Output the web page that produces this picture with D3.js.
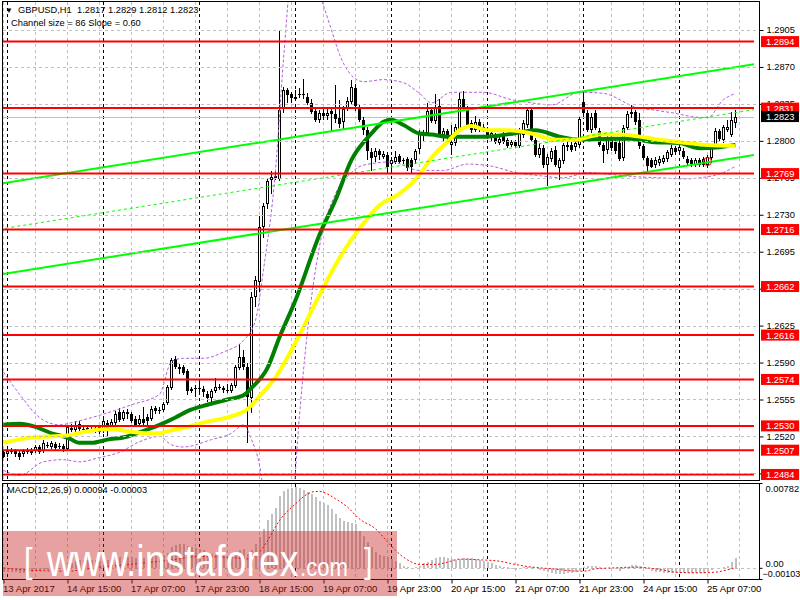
<!DOCTYPE html>
<html>
<head>
<meta charset="utf-8">
<script src="https://cdn.jsdelivr.net/npm/d3@7"></script>
<style>
  html, body { margin: 0; padding: 0; background: #fff; }
  svg { display: block; font-family: "Liberation Sans", Arial, sans-serif; }
</style>
</head>
<body>
<svg id="chart" width="800" height="600"></svg>
<script>
// H1 candles, [open, high, low, close], first bar 13 Apr 23:00
const candles = [
  [1.2505,1.2507,1.2500,1.2501],[1.2503,1.2508,1.2501,1.2506],[1.2505,1.2509,1.2503,1.2507],[1.2506,1.2508,1.2501,1.2503],
  [1.2504,1.2506,1.2498,1.2501],[1.2503,1.2508,1.2501,1.2506],[1.2505,1.2509,1.2503,1.2507],[1.2504,1.2509,1.2502,1.2506],
  [1.2506,1.2512,1.2504,1.2510],[1.2510,1.2512,1.2503,1.2505],[1.2506,1.2517,1.2504,1.2514],[1.2512,1.2515,1.2509,1.2511],
  [1.2510,1.2516,1.2508,1.2514],[1.2513,1.2515,1.2507,1.2509],[1.2510,1.2514,1.2508,1.2511],[1.2511,1.2513,1.2505,1.2508],
  [1.2508,1.2531,1.2506,1.2529],[1.2528,1.2532,1.2524,1.2526],[1.2526,1.2535,1.2524,1.2531],[1.2532,1.2535,1.2524,1.2527],
  [1.2527,1.2530,1.2524,1.2526],[1.2528,1.2531,1.2524,1.2526],[1.2526,1.2529,1.2524,1.2527],[1.2525,1.2530,1.2523,1.2528],
  [1.2529,1.2531,1.2522,1.2524],[1.2525,1.2537,1.2523,1.2535],[1.2533,1.2536,1.2520,1.2528],[1.2529,1.2537,1.2527,1.2534],
  [1.2533,1.2544,1.2531,1.2541],[1.2543,1.2547,1.2534,1.2536],[1.2537,1.2545,1.2535,1.2543],[1.2543,1.2546,1.2537,1.2541],
  [1.2541,1.2543,1.2533,1.2535],[1.2537,1.2539,1.2529,1.2531],[1.2532,1.2540,1.2530,1.2537],[1.2537,1.2548,1.2531,1.2533],
  [1.2538,1.2541,1.2529,1.2535],[1.2537,1.2549,1.2535,1.2546],[1.2547,1.2549,1.2541,1.2544],[1.2544,1.2548,1.2541,1.2545],
  [1.2545,1.2553,1.2543,1.2551],[1.2552,1.2569,1.2550,1.2567],[1.2566,1.2594,1.2564,1.2592],[1.2593,1.2596,1.2584,1.2586],
  [1.2586,1.2589,1.2579,1.2584],[1.2586,1.2588,1.2578,1.2580],[1.2582,1.2584,1.2559,1.2563],[1.2563,1.2567,1.2561,1.2565],
  [1.2565,1.2569,1.2557,1.2566],[1.2566,1.2574,1.2562,1.2565],[1.2565,1.2568,1.2557,1.2562],[1.2560,1.2563,1.2553,1.2556],
  [1.2556,1.2565,1.2553,1.2563],[1.2563,1.2575,1.2561,1.2567],[1.2567,1.2570,1.2564,1.2566],[1.2566,1.2568,1.2561,1.2564],
  [1.2564,1.2570,1.2561,1.2563],[1.2563,1.2571,1.2561,1.2569],[1.2568,1.2588,1.2566,1.2586],[1.2585,1.2608,1.2583,1.2595],
  [1.2595,1.2602,1.2583,1.2586],[1.2586,1.2590,1.2514,1.2557],[1.2556,1.2657,1.2542,1.2652],[1.2652,1.2672,1.2643,1.2668],
  [1.2666,1.2729,1.2657,1.2718],[1.2718,1.2741,1.2708,1.2738],[1.2740,1.2764,1.2735,1.2762],[1.2763,1.2771,1.2750,1.2766],
  [1.2765,1.2771,1.2763,1.2767],[1.2764,1.2905,1.2762,1.2829],[1.2830,1.2851,1.2826,1.2848],[1.2848,1.2850,1.2836,1.2843],
  [1.2844,1.2846,1.2836,1.2841],[1.2840,1.2848,1.2838,1.2842],[1.2843,1.2850,1.2841,1.2844],[1.2843,1.2859,1.2840,1.2844],
  [1.2842,1.2845,1.2834,1.2836],[1.2836,1.2840,1.2825,1.2827],[1.2828,1.2830,1.2818,1.2820],[1.2820,1.2829,1.2817,1.2826],
  [1.2826,1.2830,1.2820,1.2824],[1.2824,1.2832,1.2820,1.2826],[1.2828,1.2830,1.2808,1.2825],[1.2825,1.2853,1.2817,1.2821],
  [1.2822,1.2839,1.2812,1.2816],[1.2818,1.2833,1.2811,1.2830],[1.2831,1.2842,1.2828,1.2838],[1.2837,1.2858,1.2835,1.2851],
  [1.2850,1.2854,1.2828,1.2833],[1.2832,1.2834,1.2818,1.2820],[1.2820,1.2823,1.2806,1.2810],[1.2810,1.2813,1.2782,1.2790],
  [1.2789,1.2793,1.2771,1.2784],[1.2785,1.2793,1.2780,1.2790],[1.2790,1.2792,1.2782,1.2787],[1.2785,1.2790,1.2783,1.2788],
  [1.2787,1.2789,1.2770,1.2775],[1.2778,1.2785,1.2770,1.2782],[1.2780,1.2790,1.2778,1.2785],[1.2786,1.2788,1.2778,1.2780],
  [1.2782,1.2784,1.2778,1.2781],[1.2783,1.2785,1.2771,1.2774],[1.2782,1.2784,1.2770,1.2775],[1.2782,1.2792,1.2778,1.2790],
  [1.2792,1.2810,1.2788,1.2807],[1.2807,1.2810,1.2800,1.2806],[1.2807,1.2836,1.2805,1.2828],[1.2829,1.2832,1.2817,1.2819],
  [1.2819,1.2844,1.2816,1.2831],[1.2833,1.2840,1.2804,1.2806],[1.2806,1.2812,1.2800,1.2809],[1.2809,1.2811,1.2801,1.2803],
  [1.2796,1.2815,1.2787,1.2799],[1.2798,1.2816,1.2795,1.2813],[1.2811,1.2845,1.2808,1.2840],[1.2840,1.2847,1.2828,1.2830],
  [1.2830,1.2833,1.2812,1.2814],[1.2817,1.2820,1.2807,1.2810],[1.2810,1.2824,1.2808,1.2818],[1.2818,1.2821,1.2808,1.2810],
  [1.2813,1.2816,1.2808,1.2810],[1.2810,1.2813,1.2802,1.2804],[1.2803,1.2809,1.2800,1.2807],[1.2805,1.2807,1.2797,1.2799],
  [1.2798,1.2804,1.2796,1.2802],[1.2806,1.2809,1.2797,1.2799],[1.2801,1.2803,1.2793,1.2795],[1.2796,1.2801,1.2794,1.2799],
  [1.2799,1.2801,1.2793,1.2795],[1.2795,1.2812,1.2793,1.2810],[1.2806,1.2820,1.2803,1.2817],[1.2815,1.2831,1.2812,1.2829],
  [1.2829,1.2831,1.2799,1.2801],[1.2801,1.2803,1.2785,1.2787],[1.2787,1.2798,1.2784,1.2793],[1.2793,1.2796,1.2774,1.2777],
  [1.2777,1.2788,1.2757,1.2785],[1.2783,1.2793,1.2780,1.2790],[1.2791,1.2795,1.2775,1.2777],[1.2774,1.2784,1.2763,1.2782],
  [1.2781,1.2798,1.2778,1.2796],[1.2794,1.2799,1.2790,1.2796],[1.2796,1.2799,1.2789,1.2791],[1.2794,1.2800,1.2790,1.2798],
  [1.2796,1.2823,1.2793,1.2821],[1.2837,1.2847,1.2823,1.2826],[1.2826,1.2829,1.2808,1.2810],[1.2810,1.2826,1.2807,1.2823],
  [1.2826,1.2829,1.2810,1.2812],[1.2809,1.2812,1.2794,1.2796],[1.2796,1.2798,1.2779,1.2790],[1.2791,1.2806,1.2788,1.2804],
  [1.2804,1.2807,1.2790,1.2793],[1.2799,1.2802,1.2788,1.2790],[1.2798,1.2801,1.2781,1.2783],[1.2784,1.2815,1.2781,1.2812],
  [1.2812,1.2828,1.2810,1.2825],[1.2825,1.2834,1.2822,1.2827],[1.2827,1.2829,1.2815,1.2818],[1.2820,1.2826,1.2792,1.2795],
  [1.2795,1.2797,1.2782,1.2784],[1.2784,1.2786,1.2771,1.2776],[1.2782,1.2784,1.2774,1.2775],[1.2777,1.2785,1.2774,1.2782],
  [1.2779,1.2786,1.2776,1.2783],[1.2780,1.2787,1.2778,1.2784],[1.2783,1.2791,1.2780,1.2789],[1.2787,1.2796,1.2785,1.2793],
  [1.2793,1.2795,1.2787,1.2789],[1.2790,1.2797,1.2787,1.2794],[1.2790,1.2793,1.2783,1.2785],[1.2783,1.2786,1.2777,1.2779],
  [1.2782,1.2784,1.2775,1.2777],[1.2777,1.2784,1.2775,1.2782],[1.2782,1.2784,1.2775,1.2777],[1.2777,1.2785,1.2775,1.2783],
  [1.2777,1.2787,1.2774,1.2785],[1.2784,1.2796,1.2782,1.2794],[1.2796,1.2812,1.2794,1.2809],[1.2809,1.2811,1.2799,1.2802],
  [1.2801,1.2815,1.2798,1.2813],[1.2810,1.2820,1.2808,1.2813],[1.2806,1.2827,1.2804,1.2820],[1.2817,1.2829,1.2812,1.2823]
];

// moving averages, [bar index, price]
const greenMA = [
  [0,1.2531],[4,1.2532],[8,1.2529],[12,1.2523],[16,1.2519],[19,1.2514],[22,1.2514],[26,1.2517],[31,1.2520],
  [34,1.2524],[39,1.2531],[43,1.2538],[46,1.2544],[51,1.2550],[56,1.2555],[60,1.2559],[62,1.2566],[66,1.2585],
  [69,1.2614],[73,1.2649],[79,1.2711],[83,1.2744],[87,1.2782],[92,1.2807],[95,1.2818],[97,1.2820],[100,1.2815],
  [104,1.2807],[107,1.2806],[111,1.2804],[121,1.2804],[129,1.2808],[133,1.2810],[139,1.2804],[144,1.2801],
  [152,1.2802],[157,1.2802],[162,1.2799],[169,1.2798],[174,1.2793],[179,1.2794],[183,1.2796]
];
const yellowMA = [
  [0,1.2514],[7,1.2519],[16,1.2521],[21,1.2525],[27,1.2527],[31,1.2525],[36,1.2523],[39,1.2523],[41,1.2525],
  [46,1.2529],[51,1.2534],[56,1.2538],[61,1.2546],[64,1.2558],[68,1.2576],[73,1.2609],[79,1.2654],[84,1.2689],
  [89,1.2717],[94,1.2739],[99,1.2750],[104,1.2768],[107,1.2784],[111,1.2799],[114,1.2810],[117,1.2814],
  [121,1.2810],[126,1.2810],[132,1.2807],[138,1.2801],[143,1.2801],[149,1.2806],[154,1.2806],[159,1.2804],
  [164,1.2801],[171,1.2798],[176,1.2796],[183,1.2795]
];

// envelope bands (dotted violet)
const bandUpper = [
  [0,1.2581],[4,1.2560],[9,1.2538],[14,1.2531],[18,1.2534],[24,1.2540],[32,1.2550],[39,1.2560],[42,1.2591],
  [45,1.2594],[50,1.2594],[55,1.2600],[60,1.2611],[63,1.2630],[65,1.2678],[68,1.2772],[70,1.2877],[72,1.2960],
  [75,1.2985],[78,1.2950],[80,1.2928],[82,1.2905],[84,1.2882],[87,1.2862],[90,1.2856],[95,1.2858],[100,1.2855],
  [104,1.2845],[107,1.2836],[112,1.2846],[120,1.2846],[127,1.2839],[132,1.2836],[137,1.2834],[144,1.2846],
  [150,1.2845],[158,1.2832],[163,1.2829],[168,1.2826],[172,1.2823],[176,1.2822],[180,1.2839],[183,1.2845]
];
const bandLower = [
  [0,1.2488],[4,1.2483],[10,1.2496],[15,1.2498],[19,1.2496],[24,1.2500],[29,1.2505],[34,1.2515],[39,1.2520],
  [42,1.2512],[45,1.2510],[52,1.2517],[57,1.2523],[60,1.2531],[62,1.2517],[64,1.2493],[66,1.2440],[70,1.2400],
  [72,1.2440],[74,1.2540],[76,1.2620],[79,1.2700],[83,1.2750],[87,1.2770],[90,1.2777],[97,1.2780],[104,1.2772],
  [110,1.2772],[116,1.2778],[122,1.2776],[128,1.2770],[134,1.2767],[140,1.2765],[146,1.2770],[152,1.2768],
  [158,1.2766],[164,1.2765],[170,1.2764],[176,1.2766],[180,1.2770],[183,1.2776]
];

// regression channel, end points [bar index, price]
const channelUpper = [[-1, 1.27594], [188, 1.28728]];
const channelMiddle = [[-1, 1.27164], [188, 1.28298]];
const channelLower = [[-1, 1.26734], [188, 1.27868]];

// horizontal levels
const levels = [1.2894, 1.2831, 1.2769, 1.2716, 1.2662, 1.2616, 1.2574, 1.2530, 1.2507, 1.2484];
const bidPrice = 1.2823;
const markedBar = [176, 1.27804];

// price axis
const priceTicks = [1.2905, 1.2870, 1.2835, 1.2800, 1.2765, 1.2730, 1.2695, 1.2660, 1.2625, 1.2590, 1.2555, 1.2520, 1.2485];

// time axis
const timeTickBars = [0, 16, 32, 48, 64, 80, 96, 112, 128, 144, 160, 176];
const timeTickLabels = ["13 Apr 2017", "14 Apr 15:00", "17 Apr 07:00", "17 Apr 23:00", "18 Apr 15:00", "19 Apr 07:00",
  "19 Apr 23:00", "20 Apr 15:00", "21 Apr 07:00", "21 Apr 23:00", "24 Apr 15:00", "25 Apr 07:00"];
const daySeparators = [1, 25, 49, 73, 97, 121, 145, 169];

// MACD(12,26,9) main line, in units of 0.001
const macdMain = [
  -0.4,-0.4,-0.4,-0.4,-0.5,-0.5,-0.4,-0.4,-0.3,-0.3,-0.2,-0.2,-0.1,-0.1,-0.1,-0.2,
  0.2,0.4,0.6,0.7,0.7,0.7,0.7,0.7,0.6,0.7,0.7,0.8,0.9,1.0,1.0,1.0,1.0,0.9,0.9,0.9,0.9,1.0,1.1,1.1,1.2,
  1.4,1.9,2.1,2.2,2.2,2.0,1.9,1.8,1.7,1.6,1.4,1.3,1.3,1.2,1.1,1.0,1.0,1.3,1.6,1.7,1.3,
  1.6,2.2,2.8,3.6,4.4,5.0,5.5,6.6,7.1,7.3,7.4,7.45,7.4,7.2,7.0,6.8,6.5,6.2,6.0,5.8,5.4,5.0,4.6,4.3,4.2,4.1,4.0,
  3.4,2.9,2.4,1.9,1.5,1.2,1.1,1.0,0.8,0.6,
  0.4,0.2,0.05,0.0,0.1,0.2,0.4,0.5,0.7,0.9,1.0,1.0,0.9,0.8,0.7,0.8,0.9,0.9,0.9,0.8,0.7,0.6,0.5,0.4,0.3,0.2,0.1,0.05,
  -0.15,-0.2,0.0,0.05,0.1,0.05,-0.05,-0.2,-0.3,-0.4,-0.5,-0.55,-0.6,-0.55,-0.5,-0.45,-0.4,-0.25,
  0.1,0.2,0.2,0.15,0.05,0.0,0.0,-0.05,-0.1,-0.25,-0.1,0.05,0.3,0.3,0.2,0.05,-0.1,-0.3,-0.35,-0.4,-0.45,
  -0.5,-0.5,-0.5,-0.5,-0.5,-0.5,-0.45,-0.45,-0.5,-0.45,-0.4,-0.2,-0.05,0.0,0.1,0.2,0.5,0.94
];
// signal line, [bar index, units of 0.001]
const macdSignal = [
  [0,0],[8,-0.25],[16,-0.3],[24,0.06],[33,0.37],[41,0.68],[49,1.04],[58,0.92],[61,0.83],[64,1.44],[66,2.5],
  [69,4.36],[73,5.9],[76,6.8],[78,7.04],[79,7.04],[81,6.8],[83,6.36],[86,5.6],[89,4.5],[93,3.6],[96,2.4],
  [98,1.6],[101,0.74],[104,0.31],[108,0.31],[111,0.52],[114,0.8],[119,0.74],[124,0.61],[128,0.31],[131,0.12],
  [134,0],[138,-0.12],[141,-0.25],[145,-0.31],[148,-0.09],[153,0],[158,0.06],[163,-0.09],[168,-0.4],
  [173,-0.46],[178,-0.4],[181,-0.18],[183,-0.03]
];
const macdMax = 7.82, macdMin = -1.03;

const svg = d3.select("#chart");
const FONT = "9.3px";
const FAMILY = "Liberation Sans, Arial, sans-serif";

const x = d3.scaleLinear().domain([0, 183]).range([3.5, 735.5]);
const y = d3.scaleLinear().domain([1.2905, 1.2485]).range([30, 473.4]);
const yM = d3.scaleLinear().domain([macdMin, macdMax]).range([579, 483]);

const defs = svg.append("defs");
defs.append("clipPath").attr("id", "clipMain")
  .append("rect").attr("x", 3).attr("y", 2).attr("width", 751).attr("height", 478);
defs.append("clipPath").attr("id", "clipMacd")
  .append("rect").attr("x", 3).attr("y", 484).attr("width", 756).attr("height", 95);

const main = svg.append("g").attr("clip-path", "url(#clipMain)");
const macdG = svg.append("g").attr("clip-path", "url(#clipMacd)");

// grid
const gridBars = d3.range(0, 185, 8);
[main, macdG].forEach((g, k) => {
  g.selectAll(".vgrid").data(gridBars).enter().append("line")
    .attr("x1", (d) => x(d)).attr("x2", (d) => x(d))
    .attr("y1", k ? 484 : 2).attr("y2", k ? 579 : 480)
    .attr("stroke", "#c0c0c0").attr("stroke-dasharray", "3,3");
  g.selectAll(".sep").data(daySeparators).enter().append("line")
    .attr("x1", (d) => x(d)).attr("x2", (d) => x(d))
    .attr("y1", k ? 484 : 2).attr("y2", k ? 579 : 480)
    .attr("stroke", "#000").attr("stroke-dasharray", "3,3");
});
svg.selectAll(".hgrid").data(priceTicks).enter().append("line")
  .attr("x1", 3).attr("x2", 759)
  .attr("y1", (d) => Math.round(y(d)) + 0.5).attr("y2", (d) => Math.round(y(d)) + 0.5)
  .attr("stroke", "#c0c0c0").attr("stroke-dasharray", "3,3");

// bid line
main.append("line").attr("x1", 3).attr("x2", 759)
  .attr("y1", Math.round(y(bidPrice)) + 0.5).attr("y2", Math.round(y(bidPrice)) + 0.5)
  .attr("stroke", "#c0c0c0");

// candles
const cg = main.append("g").attr("shape-rendering", "crispEdges");
cg.selectAll(".wick").data(candles).enter().append("line")
  .attr("x1", (d, i) => x(i)).attr("x2", (d, i) => x(i))
  .attr("y1", (d) => y(d[1])).attr("y2", (d) => y(d[2]))
  .attr("stroke", "#000");
cg.selectAll(".body").data(candles).enter().append("rect")
  .attr("x", (d, i) => x(i) - 1.5).attr("width", 3)
  .attr("y", (d) => Math.min(y(d[0]), y(d[3])))
  .attr("height", (d) => Math.max(1, Math.abs(y(d[0]) - y(d[3]))))
  .attr("fill", "#000");
cg.selectAll(".hollow").data(candles.map((d, i) => [i, d]).filter((e) => e[1][3] > e[1][0] && Math.abs(y(e[1][0]) - y(e[1][3])) > 2))
  .enter().append("rect")
  .attr("x", (e) => x(e[0]) - 0.5).attr("width", 1)
  .attr("y", (e) => y(e[1][3]) + 1)
  .attr("height", (e) => y(e[1][0]) - y(e[1][3]) - 2)
  .attr("fill", "#fff");

// bands
const lineP = d3.line().x((d) => x(d[0])).y((d) => y(d[1])).curve(d3.curveMonotoneX);
[bandUpper, bandLower].forEach((b) => {
  main.append("path").attr("d", lineP(b)).attr("fill", "none")
    .attr("stroke", "#b45fd8").attr("stroke-width", 1).attr("stroke-dasharray", "3,2");
});

// moving averages
main.append("path").attr("d", lineP(greenMA)).attr("fill", "none")
  .attr("stroke", "#008000").attr("stroke-width", 4);
main.append("path").attr("d", lineP(yellowMA)).attr("fill", "none")
  .attr("stroke", "#ffff00").attr("stroke-width", 4);

// channel
const lineS = d3.line().x((d) => x(d[0])).y((d) => y(d[1]));
main.append("path").attr("d", lineS(channelUpper)).attr("stroke", "#00ff00").attr("stroke-width", 2).attr("fill", "none");
main.append("path").attr("d", lineS(channelLower)).attr("stroke", "#00ff00").attr("stroke-width", 2).attr("fill", "none");
main.append("path").attr("d", lineS(channelMiddle)).attr("stroke", "#00ff00").attr("stroke-width", 1)
  .attr("stroke-dasharray", "3,3").attr("fill", "none");

// levels
main.selectAll(".lvl").data(levels).enter().append("line")
  .attr("x1", 3).attr("x2", 754)
  .attr("y1", (d) => y(d)).attr("y2", (d) => y(d))
  .attr("stroke", "#ff0000").attr("stroke-width", 2);

main.append("circle").attr("cx", x(markedBar[0])).attr("cy", y(markedBar[1])).attr("r", 4)
  .attr("fill", "none").attr("stroke", "#ff0000").attr("stroke-width", 1);

// MACD
macdG.append("line").attr("x1", 3).attr("x2", 759)
  .attr("y1", Math.round(yM(0)) + 0.5).attr("y2", Math.round(yM(0)) + 0.5)
  .attr("stroke", "#c0c0c0").attr("stroke-dasharray", "3,3");
macdG.selectAll(".hist").data(macdMain).enter().append("rect")
  .attr("shape-rendering", "crispEdges")
  .attr("x", (d, i) => x(i) - 1).attr("width", 2)
  .attr("y", (d) => Math.min(yM(d), yM(0)))
  .attr("height", (d) => Math.abs(yM(d) - yM(0)))
  .attr("fill", "#c0c0c0");
macdG.append("path")
  .attr("d", d3.line().x((d) => x(d[0])).y((d) => yM(d[1])).curve(d3.curveMonotoneX)(macdSignal))
  .attr("fill", "none").attr("stroke", "#ff0000").attr("stroke-dasharray", "2,2");

// frames
svg.append("rect").attr("x", 2.5).attr("y", 1.5).attr("width", 757).attr("height", 479)
  .attr("fill", "none").attr("stroke", "#000");
svg.append("rect").attr("x", 2.5).attr("y", 483.5).attr("width", 757).attr("height", 96)
  .attr("fill", "none").attr("stroke", "#000");

// price axis
const yAxis = d3.axisRight(y).tickValues(priceTicks).tickFormat(d3.format(".4f")).tickSize(4).tickPadding(3);
const ya = svg.append("g").attr("transform", "translate(759.5,0)").call(yAxis);
ya.select(".domain").remove();
ya.selectAll("text").attr("font-size", FONT).attr("font-family", FAMILY).attr("fill", "#000");

// level labels
const lblG = svg.append("g");
levels.forEach((p) => {
  lblG.append("rect").attr("x", 761).attr("y", y(p) - 5.5).attr("width", 38).attr("height", 11).attr("fill", "#ff0000");
  lblG.append("text").attr("x", 766).attr("y", y(p) + 3.5).attr("font-size", FONT).attr("fill", "#fff")
    .text(d3.format(".4f")(p));
});
lblG.append("rect").attr("x", 761).attr("y", y(bidPrice) - 5.5).attr("width", 38).attr("height", 11).attr("fill", "#000");
lblG.append("text").attr("x", 766).attr("y", y(bidPrice) + 3.5).attr("font-size", FONT).attr("fill", "#fff")
  .text(d3.format(".4f")(bidPrice));

// MACD axis labels
const mAxis = d3.axisRight(yM).tickValues([macdMax, 0, macdMin]).tickSize(3).tickPadding(3)
  .tickFormat((d) => (d === 0 ? "0.00" : d3.format(".5f")(d / 1000)));
const ma = svg.append("g").attr("transform", "translate(759.5,0)").call(mAxis);
ma.select(".domain").remove();
ma.selectAll("text").attr("font-size", FONT).attr("font-family", FAMILY).attr("fill", "#000");
ma.selectAll(".tick").filter((d) => d === macdMax).select("text").attr("dy", "0.9em");
ma.selectAll(".tick").filter((d) => d === macdMin).select("text").attr("dy", "-0.3em").attr("x", 3)
  .attr("font-size", "9px");
ma.selectAll(".tick").filter((d) => d === 0).select("text").attr("dy", "-0.1em");

// time axis
const xAxis = d3.axisBottom(x).tickValues(timeTickBars).tickFormat((d, i) => timeTickLabels[i]).tickSize(4).tickPadding(2);
const xa = svg.append("g").attr("transform", "translate(0,579.5)").call(xAxis);
xa.select(".domain").remove();
xa.selectAll("text").attr("font-size", "9.6px").attr("font-family", FAMILY)
  .attr("fill", "#000").attr("text-anchor", "start").attr("dx", "-1");

// titles
svg.append("text").attr("x", 5).attr("y", 13).attr("font-size", "8px").text("\u25BC");
svg.append("text").attr("x", 18).attr("y", 13).attr("font-size", FONT).text("GBPUSD,H1");
svg.append("text").attr("x", 77).attr("y", 13).attr("font-size", FONT).text("1.2817 1.2829 1.2812 1.2823");
svg.append("text").attr("x", 11).attr("y", 26).attr("font-size", FONT).text("Channel size = 86 Slope = 0.60");
svg.append("text").attr("x", 7).attr("y", 493).attr("font-size", FONT).text("MACD(12,26,9) 0.00094 -0.00003");

// watermark
const wm = svg.append("g");
wm.append("rect").attr("x", 3).attr("y", 531).attr("width", 394).attr("height", 65)
  .attr("fill", "rgb(200,30,30)").attr("fill-opacity", 0.42);
const squeeze = 0.85;
const wmText = wm.append("text").attr("transform", `scale(${squeeze},1)`).attr("fill", "#fff");
wmText.append("tspan").attr("x", 24 / squeeze).attr("y", 573).attr("font-size", "36px").text("[");
wmText.append("tspan").attr("x", 47 / squeeze).attr("y", 576).attr("font-size", "44px").text("www.instaforex");
wmText.append("tspan").attr("x", 300 / squeeze).attr("y", 576).attr("font-size", "26px").text(".com");
wmText.append("tspan").attr("x", 364 / squeeze).attr("y", 573).attr("font-size", "36px").text("]");
</script>
</body>
</html>
